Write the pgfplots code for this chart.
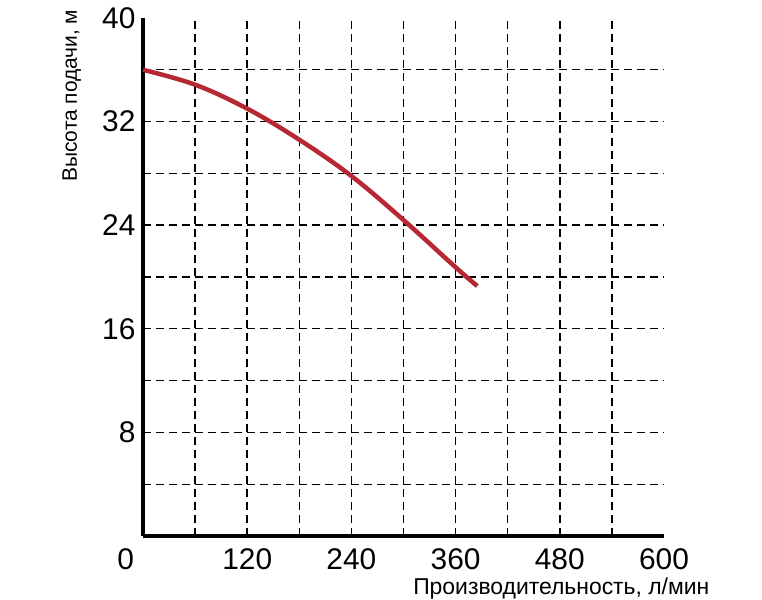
\documentclass[border=0pt]{standalone}
\usepackage{fontspec}
\setmainfont{Liberation Sans}
\usepackage{pgfplots}
\pgfplotsset{compat=1.18}
\definecolor{curvered}{RGB}{182,40,50}
\begin{document}
\begin{tikzpicture}
\useasboundingbox (-143bp,-64bp) rectangle (619bp,536bp);
\begin{axis}[
  at={(0,0)}, anchor=south west,
  scale only axis, width=521bp, height=518bp,
  xmin=0, xmax=600, ymin=0, ymax=40,
  axis lines=left,
  axis line style={-, line width=4bp, black},
  xtick={0,120,240,360,480,600},
  xticklabels={\llap{0\hspace{9bp}},120,240,360,480,600},
  ytick={8,16,24,32,40},
  yticklabels={8,16,24,32,40},
  major tick length=0pt,
  tick label style={font=\fontsize{30}{34}\selectfont},
  xticklabel style={yshift=-9bp},
  yticklabel style={xshift=-4bp},
  /pgf/number format/assume math mode=true,
  extra x ticks={60,120,180,240,300,360,420,480,540},
  extra x tick labels={},
  extra y ticks={4,8,12,16,20,24,28,32,36},
  extra y tick labels={},
  extra tick style={grid=major, major grid style={black, line width=1.4bp, dash pattern=on 8bp off 5bp}},
  clip=false,
]
\addplot[curvered, line width=4.5bp, smooth, tension=0.6] coordinates {
  (0,36.0) (60,34.85) (120,33.0) (180,30.6) (240,27.8) (300,24.4) (360,20.75) (385,19.3)
};
\node[rotate=90, anchor=base west, font=\fontsize{21}{25}\selectfont] at (axis description cs:-0.1267,0.677) {Высота подачи, м};
\node[anchor=base west, font=\fontsize{23}{27}\selectfont] at (axis description cs:0.512,-0.112) {Производительность, л/мин};
\end{axis}
\end{tikzpicture}
\end{document}
